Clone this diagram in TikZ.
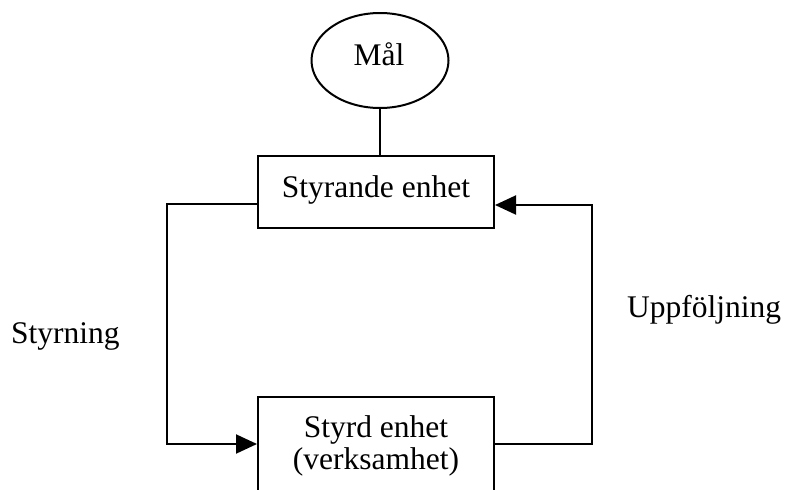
\documentclass[tikz,border=0pt]{standalone}
\usepackage{fontspec}
\setmainfont{Liberation Serif}
\usetikzlibrary{arrows.meta,shapes.geometric}
\begin{document}
\begin{tikzpicture}[x=1pt,y=-1pt,
  every node/.style={font=\fontsize{31.5}{32}\selectfont},
  boxstyle/.style={draw,line width=2pt,rectangle,inner sep=0pt},
  txt/.style={inner sep=0pt,anchor=base},
  conn/.style={line width=2pt},
  arr/.style={line width=2pt,-{Triangle[length=21pt,width=19pt]}}]
\useasboundingbox (0,0) rectangle (785,490);
\clip (0,0) rectangle (785,490);
\node[draw,line width=2pt,ellipse,minimum width=137pt,minimum height=95pt,inner sep=0pt] (mal) at (380,60.5) {};
\node[txt] (maltxt) at (379,65) {Mål};
\node[boxstyle,minimum width=236pt,minimum height=72pt] (b1) at (376,192) {};
\node[txt] (b1txt) at (376,197) {Styrande enhet};
\node[boxstyle,minimum width=236pt,minimum height=98pt] (b2) at (376,446) {};
\node[txt] (b2txta) at (376,437) {Styrd enhet};
\node[txt] (b2txtb) at (376,469) {(verksamhet)};
\node[inner sep=0pt,anchor=base west] (styr) at (11,343) {Styrning};
\node[inner sep=0pt,anchor=base west] (uppf) at (627,317) {Uppföljning};
\coordinate (lt) at (167,204);
\coordinate (lb) at (167,444);
\coordinate (rb) at (592,444);
\coordinate (rt) at (592,205);
\draw[conn] (mal.south) -- (mal.south |- b1.north);
\draw[arr] (b1.west |- lt) -- (lt) -- (lb) -- (b2.west |- lb);
\draw[arr] (b2.east |- rb) -- (rb) -- (rt) -- (b1.east |- rt);
\end{tikzpicture}
\end{document}
